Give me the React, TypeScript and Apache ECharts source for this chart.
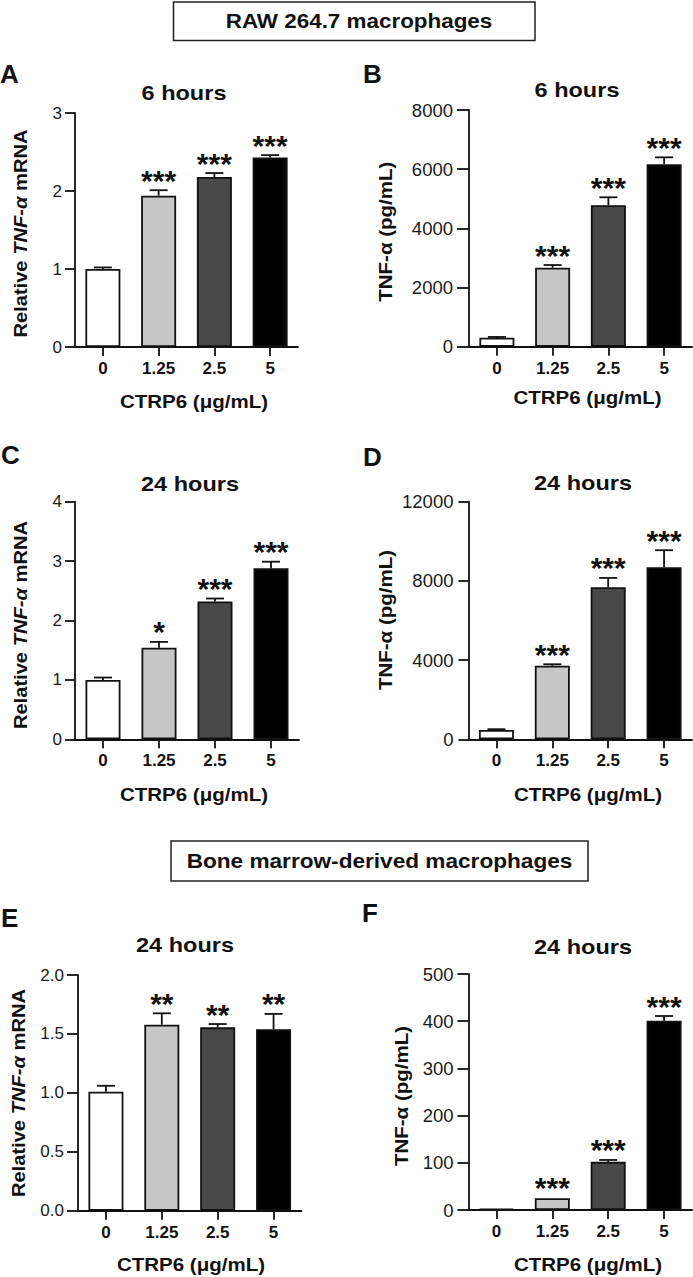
import React, { useEffect, useRef } from 'react';
import * as echarts from 'echarts';

const FONT = '"Liberation Sans", Arial, Helvetica, sans-serif';

const categories = ['0', '1.25', '2.5', '5'];
const barColors = ['#ffffff', '#c6c6c6', '#484848', '#000000'];

const meanA = [1.0, 1.94, 2.18, 2.43];
const semA = [0.02, 0.07, 0.05, 0.03];
const starsA = ['', '***', '***', '***'];

const meanB = [300, 2670, 4780, 6170];
const semB = [30, 90, 270, 230];
const starsB = ['', '***', '***', '***'];

const meanC = [1.0, 1.54, 2.32, 2.88];
const semC = [0.04, 0.1, 0.05, 0.11];
const starsC = ['', '*', '***', '***'];

const meanD = [470, 3720, 7680, 8690];
const semD = [40, 70, 470, 860];
const starsD = ['', '***', '***', '***'];

const meanE = [1.01, 1.578, 1.556, 1.54];
const semE = [0.05, 0.097, 0.028, 0.13];
const starsE = ['', '**', '**', '**'];

const meanF = [3, 25, 102, 401];
const semF = [0.5, 1, 4, 10];
const starsF = ['', '***', '***', '***'];

const header1 = 'RAW 264.7 macrophages';
const header2 = 'Bone marrow-derived macrophages';
const xName = 'CTRP6 (μg/mL)';

type Panel = {
  letter: string;
  title: string;
  yKind: 'rel' | 'pg';
  mean: number[];
  sem: number[];
  stars: string[];
  max: number;
  interval: number;
  decimals: number;
  grid: { left: number; top: number; width: number; height: number };
  yFont: number;
  yTickLen: number;
  yMargin: number;
  letterPos: [number, number];
  titlePos: [number, number];
  yNamePos: [number, number];
  xNamePos: [number, number];
};

const panels: Panel[] = [
  {
    letter: 'A', title: '6 hours', yKind: 'rel', mean: meanA, sem: semA, stars: starsA,
    max: 3, interval: 1, decimals: 0,
    grid: { left: 75, top: 113, width: 223, height: 234 },
    yFont: 17, yTickLen: 10, yMargin: 13,
    letterPos: [0, 74], titlePos: [184, 93], yNamePos: [20, 233.5], xNamePos: [194, 401.5],
  },
  {
    letter: 'B', title: '6 hours', yKind: 'pg', mean: meanB, sem: semB, stars: starsB,
    max: 8000, interval: 2000, decimals: 0,
    grid: { left: 469, top: 110, width: 223, height: 236.7 },
    yFont: 18.5, yTickLen: 12, yMargin: 16,
    letterPos: [363, 73.5], titlePos: [577, 89.5], yNamePos: [385, 231.7], xNamePos: [587.5, 397.5],
  },
  {
    letter: 'C', title: '24 hours', yKind: 'rel', mean: meanC, sem: semC, stars: starsC,
    max: 4, interval: 1, decimals: 0,
    grid: { left: 75, top: 501.7, width: 224, height: 237.6 },
    yFont: 17, yTickLen: 10, yMargin: 13,
    letterPos: [1, 455], titlePos: [190, 483.5], yNamePos: [20, 625], xNamePos: [194, 794],
  },
  {
    letter: 'D', title: '24 hours', yKind: 'pg', mean: meanD, sem: semD, stars: starsD,
    max: 12000, interval: 4000, decimals: 0,
    grid: { left: 468.5, top: 501.7, width: 223.5, height: 237.6 },
    yFont: 18.5, yTickLen: 10, yMargin: 15,
    letterPos: [363, 456.5], titlePos: [583, 483], yNamePos: [385.5, 620], xNamePos: [588, 794],
  },
  {
    letter: 'E', title: '24 hours', yKind: 'rel', mean: meanE, sem: semE, stars: starsE,
    max: 2, interval: 0.5, decimals: 1,
    grid: { left: 78, top: 975, width: 223.5, height: 235.7 },
    yFont: 17, yTickLen: 11, yMargin: 14,
    letterPos: [1, 917.5], titlePos: [185, 945], yNamePos: [18.5, 1093], xNamePos: [191, 1264],
  },
  {
    letter: 'F', title: '24 hours', yKind: 'pg', mean: meanF, sem: semF, stars: starsF,
    max: 500, interval: 100, decimals: 0,
    grid: { left: 468.5, top: 974, width: 223.5, height: 236 },
    yFont: 18.5, yTickLen: 11, yMargin: 15,
    letterPos: [362, 912.5], titlePos: [583, 946.5], yNamePos: [401.5, 1096], xNamePos: [588, 1264],
  },
];

const INK = '#111111';

function buildOption() {
  const grids: any[] = [];
  const xAxes: any[] = [];
  const yAxes: any[] = [];
  const series: any[] = [];
  const graphics: any[] = [];

  panels.forEach((p, i) => {
    grids.push({ ...p.grid, containLabel: false });
    xAxes.push({
      type: 'category',
      gridIndex: i,
      data: categories,
      axisLine: { show: true, onZero: false, lineStyle: { color: INK, width: 1.8 } },
      axisTick: { show: true, alignWithLabel: true, length: 9, lineStyle: { color: INK, width: 1.8 } },
      axisLabel: {
        margin: 13,
        color: INK,
        fontFamily: FONT,
        fontWeight: 'bold',
        fontSize: 17,
      },
      splitLine: { show: false },
    });
    yAxes.push({
      type: 'value',
      gridIndex: i,
      min: 0,
      max: p.max,
      interval: p.interval,
      axisLine: { show: true, lineStyle: { color: INK, width: 1.8 } },
      axisTick: { show: true, length: p.yTickLen, lineStyle: { color: INK, width: 1.8 } },
      axisLabel: {
        margin: p.yMargin,
        color: '#1a1a1a',
        fontFamily: FONT,
        fontSize: p.yFont,
        formatter: (v: number) => v.toFixed(p.decimals),
      },
      splitLine: { show: false },
    });
    series.push({
      type: 'bar',
      xAxisIndex: i,
      yAxisIndex: i,
      barWidth: 35,
      data: p.mean.map((v, k) => ({
        value: v,
        itemStyle: { color: barColors[k], borderColor: INK, borderWidth: 1.8 },
      })),
    });
    const stars = p.stars;
    series.push({
      type: 'custom',
      xAxisIndex: i,
      yAxisIndex: i,
      clip: false,
      z: 5,
      encode: { x: 0, y: [1, 2] },
      data: p.mean.map((v, k) => [k, v, v + p.sem[k]]),
      renderItem: (params: any, api: any) => {
        const x = api.value(0);
        const m = api.value(1);
        const t = api.value(2);
        const p0 = api.coord([x, m]);
        const p1 = api.coord([x, t]);
        const children: any[] = [];
        if (p0[1] - p1[1] > 0.6) {
          children.push({
            type: 'line',
            shape: { x1: p0[0], y1: p0[1], x2: p1[0], y2: p1[1] },
            style: { stroke: INK, lineWidth: 1.8 },
          });
          children.push({
            type: 'line',
            shape: { x1: p0[0] - 9, y1: p1[1], x2: p0[0] + 9, y2: p1[1] },
            style: { stroke: INK, lineWidth: 1.8 },
          });
        }
        const s = stars[params.dataIndex];
        if (s) {
          children.push({
            type: 'text',
            x: p0[0],
            y: p1[1] - 10,
            style: {
              text: s,
              fill: INK,
              font: `bold 30px ${FONT}`,
              align: 'center',
              verticalAlign: 'middle',
            },
          });
        }
        return { type: 'group', children };
      },
    });

    graphics.push({
      type: 'text',
      x: p.letterPos[0],
      y: p.letterPos[1],
      style: {
        text: p.letter,
        fill: INK,
        font: `bold 26px ${FONT}`,
        align: 'left',
        verticalAlign: 'middle',
      },
    });
    graphics.push({
      type: 'text',
      x: p.titlePos[0],
      y: p.titlePos[1],
      scaleX: 1.12,
      style: {
        text: p.title,
        fill: INK,
        font: `bold 21px ${FONT}`,
        align: 'center',
        verticalAlign: 'middle',
      },
    });
    graphics.push({
      type: 'text',
      x: p.xNamePos[0],
      y: p.xNamePos[1],
      scaleX: 1.08,
      style: {
        text: xName,
        fill: INK,
        font: `bold 19px ${FONT}`,
        align: 'center',
        verticalAlign: 'middle',
      },
    });
    if (p.yKind === 'rel') {
      graphics.push({
        type: 'text',
        x: p.yNamePos[0],
        y: p.yNamePos[1],
        rotation: Math.PI / 2,
        scaleX: 1.06,
        style: {
          text: 'Relative {i|TNF-α} mRNA',
          fill: INK,
          font: `bold 19px ${FONT}`,
          align: 'center',
          verticalAlign: 'middle',
          rich: {
            i: {
              fontFamily: FONT,
              fontSize: 19,
              fontWeight: 'bold',
              fontStyle: 'italic',
              fill: INK,
            },
          },
        },
      });
    } else {
      graphics.push({
        type: 'text',
        x: p.yNamePos[0],
        y: p.yNamePos[1],
        rotation: Math.PI / 2,
        scaleX: 1.08,
        style: {
          text: 'TNF-α (pg/mL)',
          fill: INK,
          font: `bold 19px ${FONT}`,
          align: 'center',
          verticalAlign: 'middle',
        },
      });
    }
  });

  graphics.push({
    type: 'rect',
    shape: { x: 173.5, y: 2, width: 361.5, height: 38.5 },
    style: { fill: '#ffffff', stroke: '#222222', lineWidth: 1.5 },
  });
  graphics.push({
    type: 'text',
    x: 359,
    y: 21.5,
    scaleX: 1.15,
    style: {
      text: header1,
      fill: INK,
      font: `bold 19.5px ${FONT}`,
      align: 'center',
      verticalAlign: 'middle',
    },
  });
  graphics.push({
    type: 'rect',
    shape: { x: 171, y: 841, width: 417, height: 40 },
    style: { fill: '#ffffff', stroke: '#222222', lineWidth: 1.5 },
  });
  graphics.push({
    type: 'text',
    x: 379.5,
    y: 861,
    scaleX: 1.16,
    style: {
      text: header2,
      fill: INK,
      font: `bold 19.5px ${FONT}`,
      align: 'center',
      verticalAlign: 'middle',
    },
  });

  return {
    animation: false,
    backgroundColor: '#ffffff',
    grid: grids,
    xAxis: xAxes,
    yAxis: yAxes,
    series,
    graphic: graphics,
  };
}

export default function App() {
  const ref = useRef<HTMLDivElement>(null);
  useEffect(() => {
    if (!ref.current) return;
    const chart = echarts.init(ref.current, undefined, { renderer: 'svg' });
    chart.setOption(buildOption() as any);
    return () => {
      chart.dispose();
    };
  }, []);
  return (
    <div
      ref={ref}
      style={{ position: 'absolute', left: 0, top: 0, width: 693, height: 1277, background: '#fff' }}
    />
  );
}
